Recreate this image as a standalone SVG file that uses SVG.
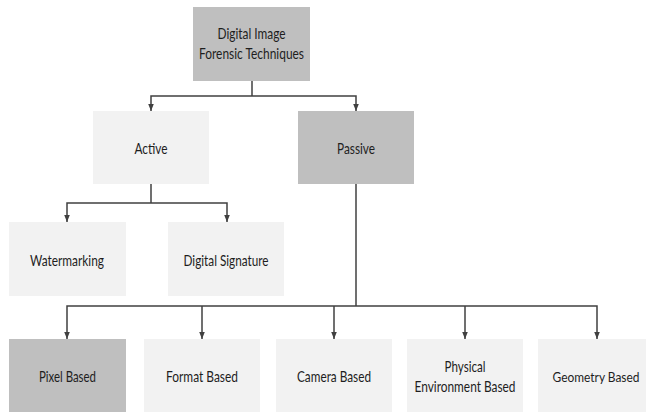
<svg xmlns="http://www.w3.org/2000/svg" width="647" height="412" viewBox="0 0 647 412">
  <defs>
    <marker id="arrow" viewBox="0 0 8 8" refX="8" refY="4" markerWidth="7" markerHeight="7" markerUnits="userSpaceOnUse" orient="auto">
      <path d="M0,0.8 L8,4 L0,7.2 Z" fill="#404040"/>
    </marker>
  </defs>
  <style>
    .light { fill: #f2f2f2; }
    .dark { fill: #bfbfbf; }
    .label { font-family: Lato, "Open Sans", "Liberation Sans", sans-serif; font-size: 15px; fill: #1e1e1e; text-anchor: middle; }
    .small { font-size: 13.5px; }
    .wire { fill: none; stroke: #404040; stroke-width: 1.5; }
    .arrow { fill: none; stroke: #404040; stroke-width: 1.5; marker-end: url(#arrow); }
  </style>
  <rect width="647" height="412" fill="#ffffff"/>

  <g id="connectors">
    <!-- root to Active / Passive -->
    <path class="wire" d="M252,81 V96"/>
    <path class="arrow" d="M252,96 H151 V111"/>
    <path class="arrow" d="M252,96 H356 V111"/>
    <!-- Active to its children -->
    <path class="wire" d="M151,184 V203"/>
    <path class="arrow" d="M151,203 H67 V222"/>
    <path class="arrow" d="M151,203 H227 V222"/>
    <!-- Passive to its children -->
    <path class="wire" d="M356,184 V306"/>
    <path class="arrow" d="M356,306 H67 V339"/>
    <path class="arrow" d="M202,306 V339"/>
    <path class="arrow" d="M334,306 V339"/>
    <path class="arrow" d="M356,306 H597 V339"/>
    <path class="arrow" d="M465,306 V339"/>
  </g>

  <g id="root">
    <rect class="dark" x="193" y="7" width="117" height="74"/>
    <text class="label" x="251.5" y="39" textLength="68" lengthAdjust="spacingAndGlyphs">Digital Image</text>
    <text class="label" x="251.5" y="59" textLength="105" lengthAdjust="spacingAndGlyphs">Forensic Techniques</text>
  </g>

  <g id="active">
    <rect class="light" x="93" y="111" width="116" height="73"/>
    <text class="label" x="151" y="154" textLength="33" lengthAdjust="spacingAndGlyphs">Active</text>
  </g>

  <g id="passive">
    <rect class="dark" x="298" y="111" width="116" height="73"/>
    <text class="label" x="356" y="154" textLength="38" lengthAdjust="spacingAndGlyphs">Passive</text>
  </g>

  <g id="watermarking">
    <rect class="light" x="9" y="222" width="117" height="74"/>
    <text class="label" x="67" y="266" textLength="74" lengthAdjust="spacingAndGlyphs">Watermarking</text>
  </g>

  <g id="digital-signature">
    <rect class="light" x="168" y="222" width="116" height="74"/>
    <text class="label" x="226" y="266" textLength="85" lengthAdjust="spacingAndGlyphs">Digital Signature</text>
  </g>

  <g id="pixel-based">
    <rect class="dark" x="9" y="339" width="117" height="73"/>
    <text class="label" x="67.5" y="382" textLength="57" lengthAdjust="spacingAndGlyphs">Pixel Based</text>
  </g>

  <g id="format-based">
    <rect class="light" x="144" y="339" width="116" height="73"/>
    <text class="label" x="202" y="382" textLength="72" lengthAdjust="spacingAndGlyphs">Format Based</text>
  </g>

  <g id="camera-based">
    <rect class="light" x="276" y="339" width="116" height="73"/>
    <text class="label" x="334" y="382" textLength="74" lengthAdjust="spacingAndGlyphs">Camera Based</text>
  </g>

  <g id="physical-environment-based">
    <rect class="light" x="407" y="339" width="116" height="73"/>
    <text class="label" x="465" y="372" textLength="41" lengthAdjust="spacingAndGlyphs">Physical</text>
    <text class="label" x="465" y="392" textLength="101" lengthAdjust="spacingAndGlyphs">Environment Based</text>
  </g>

  <g id="geometry-based">
    <rect class="light" x="538" y="339" width="108" height="73"/>
    <text class="label small" x="596" y="382" textLength="87" lengthAdjust="spacingAndGlyphs">Geometry Based</text>
  </g>
</svg>
